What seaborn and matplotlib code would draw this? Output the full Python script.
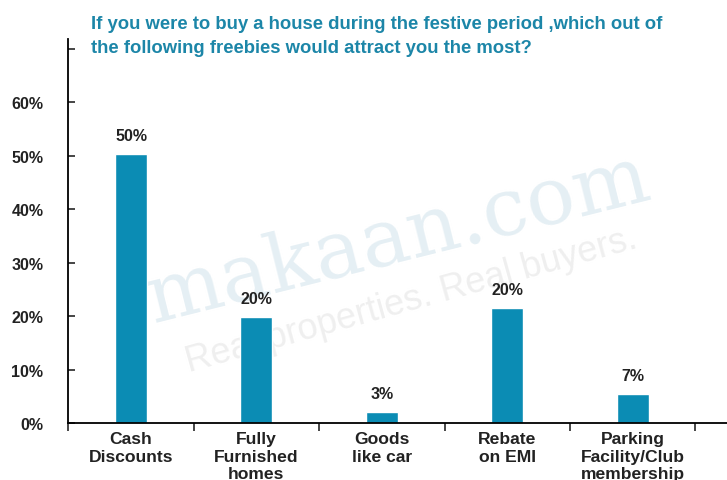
"""Festive-season freebies survey bar chart (makaan.com)."""

import matplotlib

matplotlib.use("Agg")
import matplotlib.pyplot as plt
import numpy as np
import pandas as pd
import seaborn as sns

# data
categories = [
    "Cash\nDiscounts",
    "Fully\nFurnished\nhomes",
    "Goods\nlike car",
    "Rebate\non EMI",
    "Parking\nFacility/Club\nmembership",
]
bar_heights = [50.3, 19.8, 2.1, 21.5, 5.4]
value_labels = ["50%", "20%", "3%", "20%", "7%"]
y_ticks = [0, 10, 20, 30, 40, 50, 60, 70]
y_tick_labels = ["0%", "10%", "20%", "30%", "40%", "50%", "60%", ""]

TITLE = (
    "If you were to buy a house during the festive period ,which out of\n"
    "the following freebies would attract you the most?"
)
BAR_COLOR = "#0b8cb4"
TITLE_COLOR = "#1c86a8"
TEXT_COLOR = "#222222"

sns.set_theme(style="white")
plt.rcParams["font.family"] = ["Liberation Sans", "DejaVu Sans"]

df = pd.DataFrame({"category": categories, "share": bar_heights})

fig = plt.figure(figsize=(7.27, 4.81), dpi=100)
ax = fig.add_axes([68.3 / 727, 57 / 481, (727 - 68.3) / 727, 384 / 481])

# faint watermark behind the bars
ax.text(0.50, 0.48, "makaan.com", transform=ax.transAxes, fontsize=58,
        family="DejaVu Serif", color="#e5eff4", rotation=14,
        ha="center", va="center", zorder=0)
ax.text(0.52, 0.32, "Real properties. Real buyers.", transform=ax.transAxes,
        fontsize=26, color="#efefef", rotation=15.5,
        ha="center", va="center", zorder=0)

sns.barplot(data=df, x="category", y="share", color=BAR_COLOR,
            width=0.255, saturation=1, ax=ax, zorder=2)

for patch, lab in zip(ax.patches, value_labels):
    ax.annotate(lab, (patch.get_x() + patch.get_width() / 2, patch.get_height()),
                xytext=(0, 8), textcoords="offset points", ha="center",
                va="bottom", fontsize=11.5, fontweight="bold", color=TEXT_COLOR)

ax.set_xlim(-0.5, -0.5 + (727 - 68.3) / 125.4)
ax.set_ylim(0, 71.8)

ax.set_yticks(y_ticks)
ax.set_yticklabels(y_tick_labels)
ax.tick_params(axis="y", direction="in", length=5, width=1.2, pad=18,
               labelsize=11.5, left=True)
for t in ax.get_yticklabels():
    t.set_fontweight("bold")
    t.set_color(TEXT_COLOR)

# category boundaries as major ticks, names on minor ticks
ax.set_xticks(np.arange(len(categories) + 1) - 0.5)
ax.set_xticklabels([""] * (len(categories) + 1))
ax.set_xticks(np.arange(len(categories)), minor=True)
ax.set_xticklabels(categories, minor=True)
ax.tick_params(axis="x", which="major", direction="out", length=6, width=1.2,
               bottom=True)
ax.tick_params(axis="x", which="minor", length=0, pad=6, labelsize=12.6)
for t in ax.get_xticklabels(minor=True):
    t.set_fontweight("bold")
    t.set_color(TEXT_COLOR)
    t.set_linespacing(1.2)

ax.set_xlabel("")
ax.set_ylabel("")
sns.despine(ax=ax, top=True, right=True)
for side in ("left", "bottom"):
    ax.spines[side].set_color("black")
    ax.spines[side].set_linewidth(1.3)

fig.text(91 / 727, 1 - 16 / 481, TITLE, ha="left", va="top", fontsize=13.3,
         fontweight="bold", color=TITLE_COLOR, linespacing=1.55)

fig.savefig("out.png", dpi=100)
